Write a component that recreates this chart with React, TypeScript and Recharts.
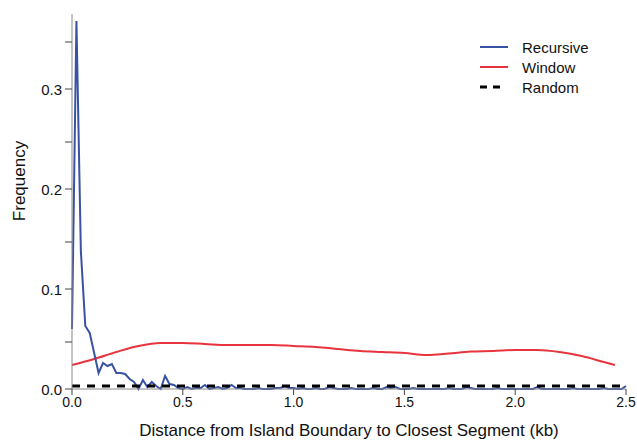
import { LineChart, Line, XAxis, YAxis } from "recharts";

// Recursive histogram, one value every 0.02 kb
const recursiveStep = 0.02;
const recursiveFreq = [
  0.06, 0.368, 0.138, 0.063, 0.056, 0.036, 0.016, 0.026, 0.023, 0.025,
  0.016, 0.016, 0.015, 0.01, 0.007, 0.0, 0.009, 0.002, 0.007, 0.003,
  0.0, 0.013, 0.005, 0.004, 0.001, 0.0, 0.002, 0.0, 0.001, 0.001,
  0.004, 0.0, 0.001, 0.002, 0.0, 0.001, 0.004, 0.001, 0.001, 0.0,
  0.0, 0.0, 0.001, 0.0, 0.0, 0.0, 0.001, 0.001, 0.003, 0.001,
  0.001, 0.0, 0.001, 0.0, 0.0, 0.001, 0.0, 0.0, 0.002, 0.001,
  0.0, 0.0, 0.0, 0.001, 0.0, 0.0, 0.0, 0.0, 0.001, 0.0,
  0.0, 0.002, 0.001, 0.002, 0.0, 0.0, 0.0, 0.001, 0.0, 0.0,
  0.0, 0.0, 0.0, 0.0, 0.0, 0.001, 0.0, 0.0, 0.0, 0.002,
  0.001, 0.0, 0.0, 0.0, 0.0, 0.0, 0.001, 0.0, 0.0, 0.0,
  0.0, 0.0, 0.0, 0.0, 0.0, 0.002, 0.0, 0.0, 0.0, 0.0,
  0.0, 0.0, 0.0, 0.001, 0.0, 0.0, 0.0, 0.0, 0.0, 0.0,
  0.001, 0.0, 0.0, 0.0, 0.0, 0.003,
];

// Window smoothed curve
const windowDist = [
  0, 0.1, 0.2, 0.3, 0.4, 0.5, 0.6, 0.7, 0.8, 0.9, 1.0, 1.1, 1.2,
  1.3, 1.4, 1.5, 1.6, 1.7, 1.8, 1.9, 2.0, 2.1, 2.2, 2.3, 2.4, 2.45,
];
const windowFreq = [
  0.024, 0.03, 0.037, 0.043, 0.046, 0.046, 0.045, 0.044, 0.044, 0.044,
  0.043, 0.042, 0.04, 0.038, 0.037, 0.036, 0.034, 0.0355, 0.0375, 0.038,
  0.039, 0.039, 0.037, 0.033, 0.027, 0.024,
];

// Random baseline
const randomDist = [0, 2.48];
const randomFreq = [0.003, 0.003];

const xTicks = [0, 0.5, 1.0, 1.5, 2.0, 2.5];
const yTicks = [0, 0.047, 0.1, 0.147, 0.2, 0.247, 0.3, 0.347];
const yLabels = [0, 0.1, 0.2, 0.3];

const series = [
  { name: "Recursive", color: "#3953a4", dash: undefined },
  { name: "Window", color: "#e8343d", dash: undefined },
  { name: "Random", color: "#000000", dash: "7 6" },
];

const recursiveData = recursiveFreq.map((v, i) => ({
  x: +(i * recursiveStep).toFixed(2),
  y: v,
}));
const windowData = windowDist.map((x, i) => ({ x, y: windowFreq[i] }));
const randomData = randomDist.map((x, i) => ({ x, y: randomFreq[i] }));

const font = "'Liberation Sans', Arial, sans-serif";

const YTick = (props: any) => {
  const { x, y, payload } = props;
  const show = yLabels.some((v) => Math.abs(v - payload.value) < 1e-6);
  if (!show) return null;
  return (
    <text
      x={x}
      y={y}
      textAnchor="end"
      dominantBaseline="central"
      fontSize={15}
      fill="#111"
      fontFamily={font}
    >
      {payload.value.toFixed(1)}
    </text>
  );
};

const LegendBox = () => (
  <div
    style={{
      position: "absolute",
      left: 480,
      top: 37,
      fontFamily: font,
      fontSize: 15,
      color: "#111",
    }}
  >
    {series.map((s) => (
      <div
        key={s.name}
        style={{ display: "flex", alignItems: "center", height: 20 }}
      >
        <svg width={42} height={20}>
          <line
            x1={0}
            x2={s.dash ? 20 : 28}
            y1={10}
            y2={10}
            stroke={s.color}
            strokeWidth={s.dash ? 3 : 2}
            strokeDasharray={s.dash}
          />
        </svg>
        <span>{s.name}</span>
      </div>
    ))}
  </div>
);

export default function App() {
  return (
    <div
      style={{
        position: "absolute",
        left: 0,
        top: 0,
        width: 637,
        height: 442,
        background: "#fff",
      }}
    >
      <LineChart
        width={637}
        height={442}
        margin={{ top: 14, right: 11, bottom: 0, left: 0 }}
      >
        <XAxis
          dataKey="x"
          type="number"
          domain={[0, 2.5]}
          ticks={xTicks}
          allowDuplicatedCategory={false}
          tickFormatter={(v: number) => v.toFixed(1)}
          height={53}
          tickSize={6}
          tickMargin={2}
          stroke="#888"
          tickLine={{ stroke: "#444" }}
          tick={{ fontSize: 14, fill: "#111", fontFamily: font }}
          label={{
            value: "Distance from Island Boundary to Closest Segment (kb)",
            position: "insideBottom",
            offset: 6,
            fontSize: 17,
            fill: "#111",
            fontFamily: font,
          }}
        />
        <YAxis
          type="number"
          domain={[0, 0.375]}
          ticks={yTicks}
          width={72}
          tickSize={7}
          tickMargin={3}
          stroke="#888"
          tickLine={{ stroke: "#444" }}
          tick={<YTick />}
          label={{
            content: () => (
              <text
                x={19}
                y={181}
                transform="rotate(-90 19 181)"
                textAnchor="middle"
                dominantBaseline="central"
                fontSize={17}
                fill="#111"
                fontFamily={font}
              >
                Frequency
              </text>
            ),
          }}
        />
        <Line
          data={windowData}
          dataKey="y"
          type="monotone"
          stroke="#e8343d"
          strokeWidth={2}
          dot={false}
          isAnimationActive={false}
        />
        <Line
          data={recursiveData}
          dataKey="y"
          type="linear"
          stroke="#3953a4"
          strokeWidth={2}
          dot={false}
          isAnimationActive={false}
        />
        <Line
          data={randomData}
          dataKey="y"
          type="linear"
          stroke="#000"
          strokeWidth={3}
          strokeDasharray="8 7"
          dot={false}
          isAnimationActive={false}
        />
      </LineChart>
      <LegendBox />
    </div>
  );
}
